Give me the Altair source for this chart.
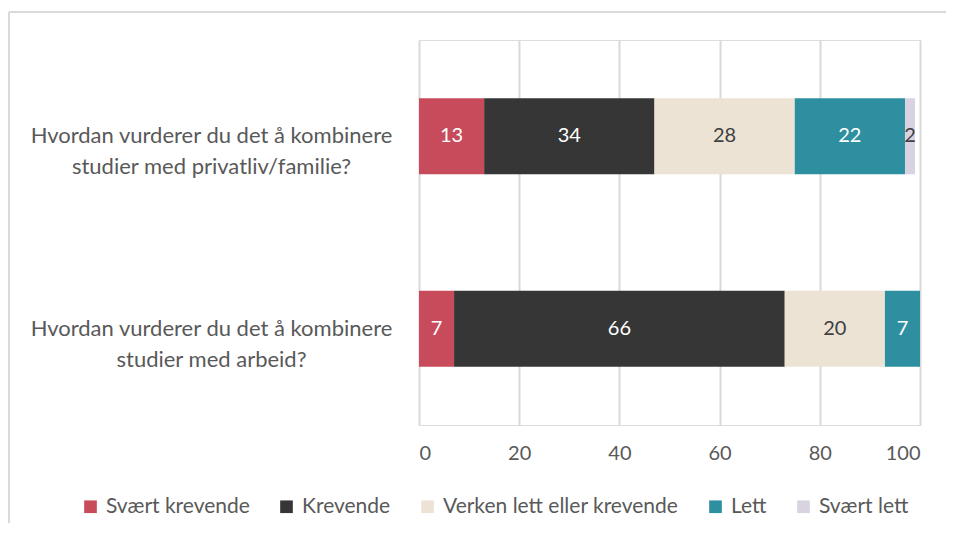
import altair as alt
import pandas as pd

questions = [
    "Hvordan vurderer du det å kombinere studier med privatliv/familie?",
    "Hvordan vurderer du det å kombinere studier med arbeid?",
]
categories = ["Svært krevende", "Krevende", "Verken lett eller krevende", "Lett", "Svært lett"]
values_q1 = [13, 34, 28, 22, 2]
values_q2 = [7, 66, 20, 7, 0]
colors = ["#C84B5B", "#363636", "#EDE3D4", "#2E8FA0", "#D9D2E0"]
label_colors = ["#FFFFFF", "#FFFFFF", "#404040", "#FFFFFF", "#404040"]

rows = []
for q, vals in zip(questions, [values_q1, values_q2]):
    for i, (c, v) in enumerate(zip(categories, vals)):
        rows.append({"question": q, "category": c, "value": v, "order": i, "lab_col": label_colors[i]})
df = pd.DataFrame(rows)

FONT = "Lato"
TXT = "#595959"

base = alt.Chart(df).transform_stack(
    stack="value", groupby=["question"], sort=[alt.SortField("order")], as_=["x0", "x1"]
).transform_calculate(mid="(datum.x0 + datum.x1) / 2")

y_enc = alt.Y(
    "question:N",
    sort=questions,
    title=None,
    scale=alt.Scale(paddingInner=0.605, paddingOuter=0.3025),
    axis=alt.Axis(
        domain=False, ticks=False, grid=False,
        labelExpr="[substring(datum.label, 0, 35), substring(datum.label, 36)]",
        labelAlign="center", labelPadding=208, labelLimit=600,
        labelFontSize=22, labelColor=TXT, labelFont=FONT, labelLineHeight=31,
        labelBaseline="middle",
    ),
)

bars = base.mark_bar().encode(
    x=alt.X(
        "x0:Q",
        title=None,
        scale=alt.Scale(domain=[0, 100], nice=False),
        axis=alt.Axis(
            values=[0, 20, 40, 60, 80, 100], domain=False, ticks=False,
            grid=True, gridColor="#D9D9D9", gridWidth=2,
            labelFontSize=20, labelColor=TXT, labelFont=FONT, labelPadding=18,
        ),
    ),
    x2="x1:Q",
    y=y_enc,
    color=alt.Color(
        "category:N",
        sort=categories,
        scale=alt.Scale(domain=categories, range=colors),
        legend=alt.Legend(
            title=None, orient="none", legendX=-339, legendY=456, direction="horizontal",
            columns=5, symbolType="square", symbolSize=160, symbolStrokeWidth=0,
            labelFontSize=21, labelColor=TXT, labelFont=FONT, columnPadding=26,
            labelOffset=5, labelLimit=400,
        ),
    ),
    order=alt.Order("order:Q"),
)

texts = base.transform_filter("datum.value > 0").mark_text(
    fontSize=20, font=FONT, baseline="middle", align="center"
).encode(
    x=alt.X("mid:Q"),
    y=alt.Y("question:N", sort=questions),
    text=alt.Text("value:Q"),
    color=alt.Color("lab_col:N", scale=None),
)

frame_df = pd.DataFrame({"k": [0]})
frame_top = alt.Chart(frame_df).mark_rule(color="#D9D9D9", strokeWidth=2).encode(
    x=alt.value(-410), x2=alt.value(540), y=alt.value(-28)
)
frame_left = alt.Chart(frame_df).mark_rule(color="#D9D9D9", strokeWidth=2).encode(
    x=alt.value(-410), y=alt.value(-28), y2=alt.value(510)
)

chart = alt.layer(bars, texts, frame_top, frame_left).properties(
    width=501, height=385,
    autosize=alt.AutoSizeParams(type="none"),
    padding={"left": 411, "top": 32, "right": 26, "bottom": 98},
).configure_view(stroke=None).configure(background="white")

chart.save("out.html", embed_options={"renderer": "svg", "actions": False})
